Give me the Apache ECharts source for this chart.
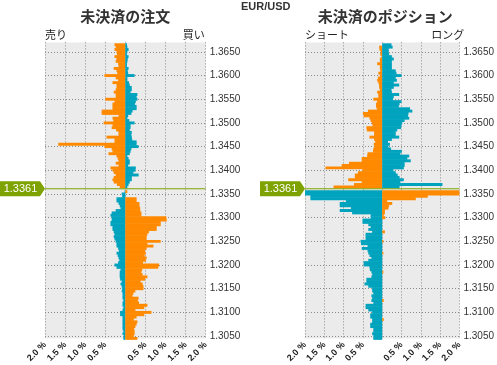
<!DOCTYPE html>
<html><head><meta charset="utf-8">
<script src="https://cdn.jsdelivr.net/npm/echarts@6/dist/echarts.min.js"></script>
<style>html,body{margin:0;padding:0;background:#fff}#c{width:497px;height:365px}</style>
</head><body><div id="c"></div>
<script>
// price levels, top (1.3670) to bottom (1.3045)
const levels = ['1.3670','1.3665','1.3660','1.3655',
'1.3650','1.3645','1.3640','1.3635','1.3630','1.3625','1.3620','1.3615','1.3610','1.3605',
'1.3600','1.3595','1.3590','1.3585','1.3580','1.3575','1.3570','1.3565','1.3560','1.3555',
'1.3550','1.3545','1.3540','1.3535','1.3530','1.3525','1.3520','1.3515','1.3510','1.3505',
'1.3500','1.3495','1.3490','1.3485','1.3480','1.3475','1.3470','1.3465','1.3460','1.3455',
'1.3450','1.3445','1.3440','1.3435','1.3430','1.3425','1.3420','1.3415','1.3410','1.3405',
'1.3400','1.3395','1.3390','1.3385','1.3380','1.3375','1.3370','1.3365','1.3360','1.3355',
'1.3350','1.3345','1.3340','1.3335','1.3330','1.3325','1.3320','1.3315','1.3310','1.3305',
'1.3300','1.3295','1.3290','1.3285','1.3280','1.3275','1.3270','1.3265','1.3260','1.3255',
'1.3250','1.3245','1.3240','1.3235','1.3230','1.3225','1.3220','1.3215','1.3210','1.3205',
'1.3200','1.3195','1.3190','1.3185','1.3180','1.3175','1.3170','1.3165','1.3160','1.3155',
'1.3150','1.3145','1.3140','1.3135','1.3130','1.3125','1.3120','1.3115','1.3110','1.3105',
'1.3100','1.3095','1.3090','1.3085','1.3080','1.3075','1.3070','1.3065','1.3060','1.3055',
'1.3050','1.3045'];
const currentPrice = 1.3361;
const currentPriceLabel = '1.3361';

// Open orders (%) : sell side (left) and buy side (right)
const orderSell = [0,.27,.24,.27,
.22,.21,.27,.22,.24,.18,.17,.29,.22,.20,
.52,.24,.18,.32,.22,.22,.24,.29,.24,.24,
.50,.27,.32,.32,.32,.59,.59,.17,.32,.30,
.54,.32,.34,.23,.17,.17,.47,.27,.27,1.67,
.52,.34,.32,.42,.22,.19,.17,.24,.17,.37,
.32,.29,.24,.29,.32,.29,.21,.14,0,.02,
.09,.08,.22,.22,.17,.14,.12,.24,.34,.37,
.34,.34,.37,.37,.32,.32,.29,.27,.29,.27,
.24,.22,.22,.18,.16,.22,.19,.17,.15,.18,
.27,.22,.12,.14,.14,.14,.13,.09,.12,.09,
.08,.09,.07,.07,.07,.05,.07,.07,.05,.07,
.13,.13,.07,.07,.07,.07,.07,.07,.05,.07,
.04,.05];
const orderBuy = [0,.04,.05,.08,
.05,.04,.08,.06,.05,.04,.04,.08,.06,.07,
.23,.05,.05,.09,.11,.16,.16,.13,.30,.28,
.30,.26,.24,.28,.28,.18,.15,.07,.05,.10,
.23,.13,.13,.11,.16,.15,.16,.17,.28,.28,
.33,.15,.13,.11,.05,.08,.11,.11,.07,.26,
.25,.20,.33,.16,.16,.11,.08,.05,0,.05,
0,0,.28,.28,.35,.35,.37,.37,.40,.40,
1.02,1.03,.88,.88,.78,.78,.59,.55,.53,.53,
.88,.55,.70,.53,.49,.51,.48,.53,.51,.44,
.84,.82,.42,.40,.43,.55,.49,.38,.43,.45,
.45,.25,.20,.18,.33,.31,.34,.55,.47,.25,
.65,.47,.28,.21,.30,.28,.25,.22,.23,.23,
.21,.30];
// Open positions (%) : short (left) and long (right)
const posShort = [0,0,.08,.07,
.04,.05,.02,.06,.06,.13,.06,.06,.05,.10,
.06,.11,.13,.10,.08,.08,.06,.13,.10,.10,
.23,.13,.16,.16,.14,.37,.50,.48,.33,.30,
.27,.25,.41,.40,.21,.21,.33,.21,.18,.22,
.20,.23,.24,.38,.39,.53,.53,.86,1.05,1.47,
.51,.63,.71,.71,.88,.53,.73,1.26,0,2.0,
2.0,1.86,1.86,.94,1.10,1.10,.81,1.10,.78,.30,
.30,.51,.51,.36,.30,.36,.26,.43,.43,.43,
.56,.55,.38,.53,.38,.36,.33,.28,.36,.48,
.48,.33,.32,.28,.26,.28,.41,.41,.46,.36,
.26,.26,.23,.28,.26,.28,.23,.43,.43,.36,
.26,.31,.31,.26,.26,.31,.31,.23,.23,.26,
.23,.23];
const posLong = [0,.24,.27,.17,
.17,.18,.25,.30,.25,.25,.25,.25,.35,.37,
.50,.35,.38,.30,.44,.30,.24,.25,.44,.30,
.28,.50,.45,.43,.72,.78,.68,.67,.70,.58,
.52,.50,.49,.39,.35,.35,.44,.25,.15,.20,
.16,.23,.51,.47,.70,.65,.74,.58,.58,.56,
.29,.35,.40,.45,.56,.47,1.56,.45,0,2.0,
2.0,1.18,.87,.13,.26,.18,.16,.07,.07,.04,
.08,0,0,0,0,0,.07,0,0,0,
.03,0,0,0,0,.03,0,0,0,0,
0,0,0,.03,0,0,0,0,0,0,
0,0,0,0,0,.04,0,0,0,0,
0,0,0,.04,0,0,0,0,0,0,
0,0];

const titles = ['未決済の注文', '未決済のポジション'];
const sideLabels = [['売り','買い'], ['ショート','ロング']];
const xTicks = [-2, -1.5, -1, -0.5, 0.5, 1, 1.5, 2];

const ORANGE = '#ff8a00', TEAL = '#00a3bd', GREEN = '#7ea300';
const GRID_TOP = 42.4, GRID_H = 299.2;
const grids = [{left: 45, width: 160.7}, {left: 305, width: 160.3}];

const option = {
  animation: false,
  textStyle: {fontFamily: 'Liberation Sans, Arial, sans-serif'},
  title: [
    {text: 'EUR/USD', left: 241, top: 1, padding: 0, textStyle: {fontSize: 11, fontWeight: 'bold', color: '#333'}}
  ],
  grid: [], xAxis: [], yAxis: [], series: []
};

grids.forEach((g, gi) => {
  const cx = g.left + g.width / 2;
  option.title.push({text: titles[gi], left: cx, textAlign: 'center', top: 9, padding: 0,
    textStyle: {fontSize: 15, fontWeight: 'bold', color: '#333', fontFamily: 'Noto Sans CJK JP'}});
  option.title.push({text: sideLabels[gi][0], left: g.left, top: 29, padding: 0,
    textStyle: {fontSize: 11, fontWeight: 'normal', color: '#222', fontFamily: 'Noto Sans CJK JP'}});
  option.title.push({text: sideLabels[gi][1], left: g.left + g.width - 1, textAlign: 'right', top: 29, padding: 0,
    textStyle: {fontSize: 11, fontWeight: 'normal', color: '#222', fontFamily: 'Noto Sans CJK JP'}});

  option.grid.push({left: g.left, width: g.width, top: GRID_TOP, height: GRID_H,
    show: true, backgroundColor: '#ebebeb', borderWidth: 0});

  option.xAxis.push({type: 'value', gridIndex: gi, min: -2, max: 2, interval: 0.5,
    axisLine: {show: false}, axisTick: {show: false},
    splitLine: {show: true, lineStyle: {color: '#8a8a8a', type: [1, 2], width: 1}},
    axisLabel: {rotate: 45, fontSize: 9, fontWeight: 'bold', color: '#222', margin: 5,
      formatter: v => xTicks.some(t => Math.abs(t - v) < 1e-9) ? Math.abs(v).toFixed(1) + ' %' : ''}});

  const isTick = v => Math.round(parseFloat(v) * 10000) % 50 === 0;
  option.yAxis.push({type: 'category', gridIndex: gi, data: levels, inverse: true, boundaryGap: false,
    position: 'right', axisLine: {show: false}, axisTick: {show: false},
    axisLabel: {interval: (i, v) => isTick(v), fontSize: 10, color: '#333', margin: 4},
    splitLine: {show: true, interval: (i, v) => isTick(v), lineStyle: {color: '#8a8a8a', type: [1, 2], width: 1}}});
  option.yAxis.push({type: 'value', gridIndex: gi, min: 1.3045, max: 1.3670, show: false, splitLine: {show: false}});

  const leftData = gi === 0 ? orderSell : posShort;
  const rightData = gi === 0 ? orderBuy : posLong;
  const above = i => parseFloat(levels[i]) > currentPrice;
  const stackId = 'side' + gi;
  option.series.push({type: 'bar', xAxisIndex: gi, yAxisIndex: gi * 2, data: leftData.map(v => -v),
    stack: stackId, barWidth: 2.9, silent: true,
    itemStyle: {color: p => above(p.dataIndex) ? ORANGE : TEAL}});
  option.series.push({type: 'bar', xAxisIndex: gi, yAxisIndex: gi * 2, data: rightData,
    stack: stackId, barWidth: 2.9, silent: true,
    itemStyle: {color: p => above(p.dataIndex) ? TEAL : ORANGE}});
  option.series.push({type: 'line', xAxisIndex: gi, yAxisIndex: gi * 2 + 1,
    data: [[-2, currentPrice], [2, currentPrice]], symbol: 'none', silent: true,
    lineStyle: {color: GREEN, width: 1}, z: 5,
    markPoint: {silent: true,
      symbol: 'path://M0,0 L40,0 L45,7 L40,14 L0,14 Z', symbolSize: [45, 15], symbolOffset: [-22.5, 0],
      itemStyle: {color: GREEN},
      label: {show: true, position: 'inside', offset: [-2, 0], formatter: currentPriceLabel, color: '#fff', fontSize: 11},
      data: [{coord: [-2, currentPrice]}]}});
});

const chart = echarts.init(document.getElementById('c'), null, {renderer: 'canvas'});
chart.setOption(option);
</script></body></html>
